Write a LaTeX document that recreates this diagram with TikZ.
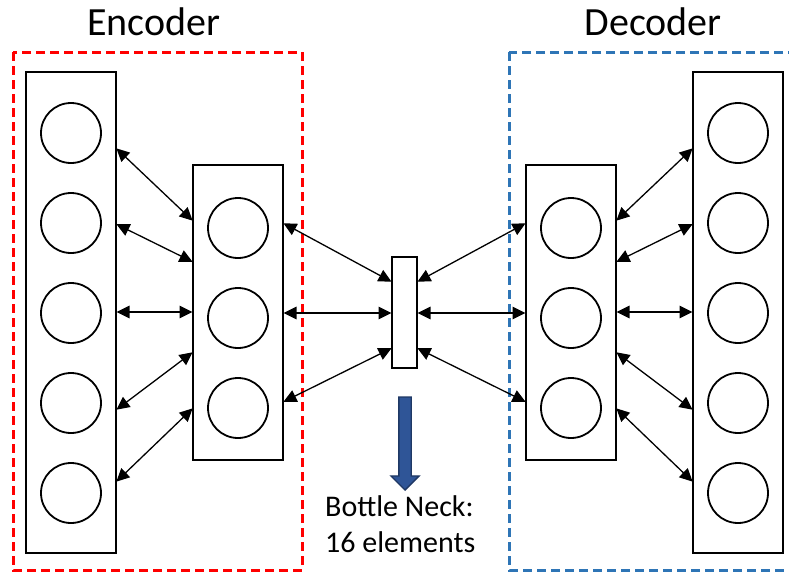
\documentclass[tikz,border=0pt]{standalone}
\usepackage{fontspec}
\setmainfont{Carlito}
\usetikzlibrary{arrows.meta,shapes.arrows}

\begin{document}
\begin{tikzpicture}[x=1pt,y=-1pt,
  layer/.style={draw,line width=2pt,minimum width=90pt,inner sep=0pt,outer sep=0pt},
  unit/.style={circle,draw,line width=1.8pt,minimum size=60pt,inner sep=0pt},
  link/.style={line width=1.3pt,{Triangle[length=13pt,width=12.5pt]}-{Triangle[length=13pt,width=12.5pt]},shorten <=0.5pt,shorten >=0.5pt},
  group/.style={line width=3pt,dash pattern=on 9pt off 5pt},
  title/.style={font=\fontsize{40}{44}\selectfont,anchor=base,inner sep=0pt},
  note/.style={font=\fontsize{30}{36}\selectfont,align=left,inner sep=0pt}]
\useasboundingbox (0,0) rectangle (789,573);
\clip (0,0) rectangle (789,573);

% group frames
\draw[group,draw={rgb,255:red,255;green,0;blue,0}] (13,52) rectangle (302,570);
\draw[group,draw={rgb,255:red,46;green,117;blue,182}] (509,52) rectangle (800,570);

% titles
\node[title] (enc) at (154,35) {Encoder};
\node[title] (dec) at (653,35) {Decoder};

% layers
\node[layer,minimum height=481pt] (L)  at (71,312.5) {};
\node[layer,minimum height=295pt] (M1) at (238,312.5) {};
\node[layer,minimum width=25pt,minimum height=111pt] (B) at (404.5,312.5) {};
\node[layer,minimum height=295pt] (M2) at (571,312.5) {};
\node[layer,minimum height=481pt] (R)  at (738,312.5) {};

% units of the outer layers
\foreach \i/\y in {1/133,2/223,3/313,4/403,5/493}{
  \node[unit] (l\i) at (71,\y) {};
  \node[unit] (r\i) at (738,\y) {};
}
% units of the inner layers
\foreach \i/\y in {1/228,2/318,3/408}{
  \node[unit] (ma\i) at (238,\y) {};
  \node[unit] (mb\i) at (571,\y) {};
}

% encoder connections
\draw[link] (L.east |- 0,148) -- (M1.west |- 0,221);
\draw[link] (L.east |- 0,224) -- (M1.west |- 0,262);
\draw[link] (L.east |- 0,312) -- (M1.west |- 0,312);
\draw[link] (L.east |- 0,410) -- (M1.west |- 0,352);
\draw[link] (L.east |- 0,482) -- (M1.west |- 0,408);

\draw[link] (M1.east |- 0,223) -- (B.west |- 0,282);
\draw[link] (M1.east |- 0,313) -- (B.west |- 0,313);
\draw[link] (M1.east |- 0,402) -- (B.west |- 0,348);

% decoder connections
\draw[link] (B.east |- 0,282) -- (M2.west |- 0,223);
\draw[link] (B.east |- 0,313) -- (M2.west |- 0,313);
\draw[link] (B.east |- 0,348) -- (M2.west |- 0,402);

\draw[link] (M2.east |- 0,221) -- (R.west |- 0,148);
\draw[link] (M2.east |- 0,262) -- (R.west |- 0,224);
\draw[link] (M2.east |- 0,312) -- (R.west |- 0,312);
\draw[link] (M2.east |- 0,352) -- (R.west |- 0,410);
\draw[link] (M2.east |- 0,408) -- (R.west |- 0,482);

% bottleneck pointer and label
\node[single arrow,shape border rotate=270,draw={rgb,255:red,31;green,56;blue,100},
  fill={rgb,255:red,47;green,85;blue,151},line width=1.3pt,
  minimum width=28pt,single arrow head extend=8pt,single arrow tip angle=90,
  minimum height=93pt,inner sep=0pt,text width=11pt] (ptr) at (405,440.5) {};
\node[note,anchor=north west] (bn) at (325,495) {Bottle Neck:\\16 elements};
\end{tikzpicture}
\end{document}
